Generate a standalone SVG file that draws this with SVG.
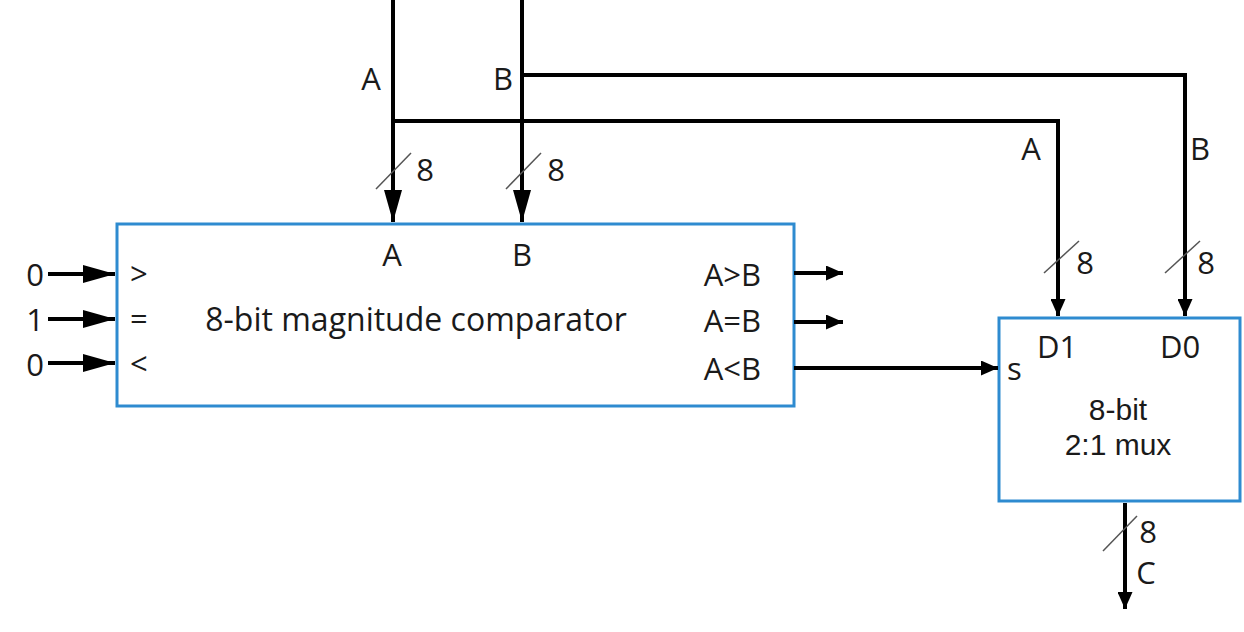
<svg xmlns="http://www.w3.org/2000/svg" width="1244" height="632" viewBox="0 0 1244 632">
<style>
.box{fill:#fff;stroke:#2E8BD0;stroke-width:3}
.w{fill:none;stroke:#000;stroke-width:4}
.sl{stroke:#555;stroke-width:1.5}
text{font-family:"Open Sans","Liberation Sans",sans-serif;font-size:31px;fill:#1a1a1a}
.big{font-size:32px}
.mx{font-family:"Liberation Sans","Open Sans",sans-serif;font-size:30px}
.m{text-anchor:middle}
.e{text-anchor:end}
</style>
<defs>
<marker id="ah" viewBox="0 0 10 10" refX="10" refY="5" markerWidth="17" markerHeight="15" markerUnits="userSpaceOnUse" orient="auto" preserveAspectRatio="none">
<path d="M0,0 L10,5 L0,10 z" fill="#000"/>
</marker>
<marker id="ahL" viewBox="0 0 10 10" refX="10" refY="5" markerWidth="32" markerHeight="18" markerUnits="userSpaceOnUse" orient="auto" preserveAspectRatio="none">
<path d="M0,0 L10,5 L0,10 z" fill="#000"/>
</marker>
</defs>
<g id="comparator">
<rect class="box" x="117" y="224" width="677" height="182"/>
<text x="392" y="266" class="m">A</text>
<text x="522" y="266" class="m">B</text>
<text x="130" y="285">&gt;</text>
<text x="130" y="330">=</text>
<text x="130" y="375">&lt;</text>
<text x="416" y="331" class="m big">8-bit magnitude comparator</text>
<text x="761" y="286" class="e">A&gt;B</text>
<text x="761" y="332" class="e">A=B</text>
<text x="761" y="380" class="e">A&lt;B</text>
</g>
<g id="mux">
<rect class="box" x="999" y="318" width="241" height="183"/>
<text x="1057" y="358" class="m">D1</text>
<text x="1180" y="358" class="m">D0</text>
<text x="1007" y="380">s</text>
<text x="1118" y="420" class="m mx">8-bit</text>
<text x="1118" y="455" class="m mx">2:1 mux</text>
</g>
<g id="labels">
<text x="371" y="90" class="m">A</text>
<text x="503" y="90" class="m">B</text>
<text x="1031" y="160" class="m">A</text>
<text x="1200" y="160" class="m">B</text>
<text x="35" y="286" class="m">0</text>
<text x="35" y="331" class="m">1</text>
<text x="35" y="376" class="m">0</text>
<text x="425" y="181" class="m">8</text>
<text x="556" y="181" class="m">8</text>
<text x="1085" y="274" class="m">8</text>
<text x="1206" y="274" class="m">8</text>
<text x="1148" y="543" class="m">8</text>
<text x="1146" y="584" class="m">C</text>
</g>
<g id="connectors">
<path class="w" d="M393,0 V222" marker-end="url(#ahL)"/>
<path class="w" d="M522,0 V222" marker-end="url(#ahL)"/>
<path class="w" d="M393,121 H1058 V316" marker-end="url(#ah)"/>
<path class="w" d="M522,75 H1185 V316" marker-end="url(#ah)"/>
<path class="w" d="M48,274 H115" marker-end="url(#ahL)"/>
<path class="w" d="M48,319 H115" marker-end="url(#ahL)"/>
<path class="w" d="M48,363 H115" marker-end="url(#ahL)"/>
<path class="w" d="M794,273 H843" marker-end="url(#ah)"/>
<path class="w" d="M794,322 H843" marker-end="url(#ah)"/>
<path class="w" d="M794,368 H998" marker-end="url(#ah)"/>
<path class="w" d="M1125,503 V609" marker-end="url(#ah)"/>
<line class="sl" x1="376" y1="189" x2="411" y2="153"/>
<line class="sl" x1="506" y1="189" x2="541" y2="153"/>
<line class="sl" x1="1044" y1="273" x2="1079" y2="241"/>
<line class="sl" x1="1165" y1="273" x2="1200" y2="241"/>
<line class="sl" x1="1103" y1="551" x2="1137" y2="516"/>
</g>
</svg>
